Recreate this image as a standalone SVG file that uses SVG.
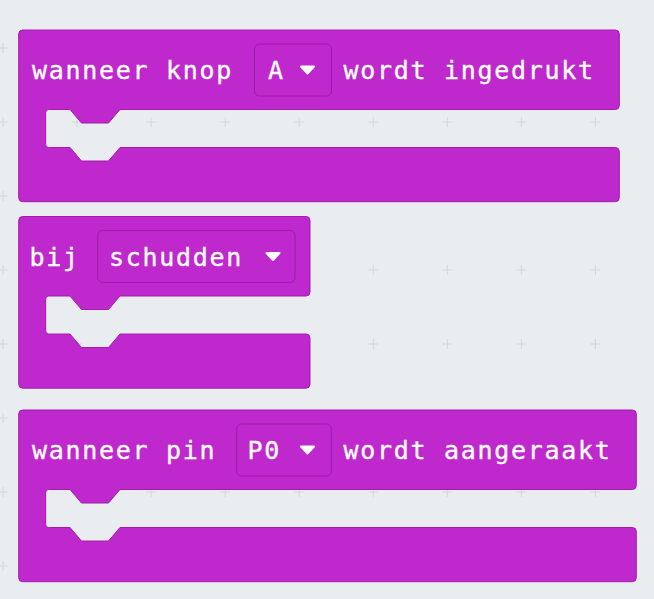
<svg xmlns="http://www.w3.org/2000/svg" width="654" height="599" viewBox="0 0 654 599">
<defs>
<style>
.blk{fill:#BF28CC;stroke:#A21DAC;stroke-width:1}
.dd{fill:#BF28CC;stroke:#9C1CA7;stroke-width:1}
.lbl{font-family:"DejaVu Sans Mono","Liberation Mono",monospace;font-size:25px;letter-spacing:1.7px;fill:#FFFFFF;stroke:#FFFFFF;stroke-width:0.35}
.tri{fill:#FFFFFF;stroke:#FFFFFF;stroke-width:2;stroke-linejoin:round}
</style>
<pattern id="grid" patternUnits="userSpaceOnUse" x="-34" y="11" width="74.05" height="74">
<path d="M32,37 H42 M37,32 V42" stroke="#D2D7DB" stroke-width="1" fill="none"/>
</pattern>
</defs>
<rect x="0" y="0" width="654" height="599" fill="#E9EDF0"/>
<rect x="0" y="0" width="654" height="599" fill="url(#grid)"/>
<g id="connectors"></g>
<g id="block-knop" transform="translate(0,30)">
<path class="blk" d="M22.7,0 H615.3 Q619.3,0 619.3,4 V75.5 Q619.3,79.5 615.3,79.5 H120 L108.5,93 H81.5 L70,79.5 H48.7 Q45.7,79.5 45.7,82.5 V114.5 Q45.7,117.5 48.7,117.5 H70 L81.5,131 H108.5 L120,117.5 H615.3 Q619.3,117.5 619.3,121.5 V167.7 Q619.3,171.7 615.3,171.7 H22.7 Q18.7,171.7 18.7,167.7 V4 Q18.7,0 22.7,0 Z"/>
<text class="lbl" x="32" y="49">wanneer knop</text>
<rect class="dd" x="254.5" y="14" width="77" height="52" rx="5"/>
<text class="lbl" x="268" y="49">A</text>
<polygon class="tri" points="301,36.5 314,36.5 307.5,43.5"/>
<text class="lbl" x="343.5" y="49">wordt ingedrukt</text>
</g>
<g id="block-schudden" transform="translate(0,216.5)">
<path class="blk" d="M22.7,0 H306 Q310,0 310,4 V75.5 Q310,79.5 306,79.5 H120 L108.5,93 H81.5 L70,79.5 H48.7 Q45.7,79.5 45.7,82.5 V114.5 Q45.7,117.5 48.7,117.5 H70 L81.5,131 H108.5 L120,117.5 H306 Q310,117.5 310,121.5 V167.7 Q310,171.7 306,171.7 H22.7 Q18.7,171.7 18.7,167.7 V4 Q18.7,0 22.7,0 Z"/>
<text class="lbl" x="29.5" y="49">bij</text>
<rect class="dd" x="97.7" y="14" width="197.3" height="52" rx="5"/>
<text class="lbl" x="109" y="49">schudden</text>
<polygon class="tri" points="266.5,36.5 279.5,36.5 273,43.5"/>
</g>
<g id="block-pin" transform="translate(0,410)">
<path class="blk" d="M22.7,0 H632.3 Q636.3,0 636.3,4 V75.5 Q636.3,79.5 632.3,79.5 H120 L108.5,93 H81.5 L70,79.5 H48.7 Q45.7,79.5 45.7,82.5 V114.5 Q45.7,117.5 48.7,117.5 H70 L81.5,131 H108.5 L120,117.5 H632.3 Q636.3,117.5 636.3,121.5 V167.7 Q636.3,171.7 632.3,171.7 H22.7 Q18.7,171.7 18.7,167.7 V4 Q18.7,0 22.7,0 Z"/>
<text class="lbl" x="32" y="49">wanneer pin</text>
<rect class="dd" x="236.7" y="14" width="94.6" height="52" rx="5"/>
<text class="lbl" x="247.5" y="49">P0</text>
<polygon class="tri" points="301,36.5 314,36.5 307.5,43.5"/>
<text class="lbl" x="343.5" y="49">wordt aangeraakt</text>
</g>
</svg>
